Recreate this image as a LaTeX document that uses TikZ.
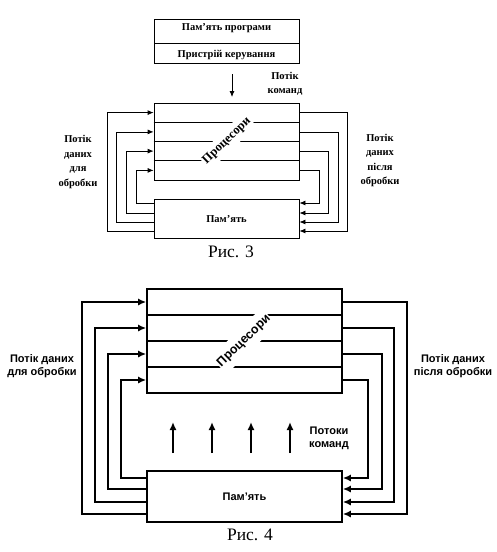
\documentclass[tikz,border=0pt]{standalone}
\usepackage{fontspec}
\setmainfont{Liberation Serif}
\newfontfamily\sansb{Liberation Sans}
\usetikzlibrary{arrows.meta}
\begin{document}
\begin{tikzpicture}[x=1pt,y=-1pt,
  boxthree/.style={draw,line width=0.8pt,inner sep=0pt},
  boxfour/.style={draw,line width=1.6pt,inner sep=0pt},
  wthree/.style={line width=0.8pt},
  wfour/.style={line width=1.6pt},
  arrthree/.style={wthree,-{Latex[length=6pt,width=5pt]}},
  arrfour/.style={wfour,-{Latex[length=8pt,width=7pt]}},
  labthree/.style={font=\fontsize{10.5}{14.5}\selectfont\bfseries,align=center},
  labfour/.style={font=\fontsize{11}{13}\selectfont\sansb\bfseries,align=center},
  caption/.style={font=\fontsize{17.5}{19}\selectfont}
]
\useasboundingbox (0,0) rectangle (497,552);

% ---------------- Figure 3 ----------------
\node[boxthree,minimum width=145,minimum height=24] (prog) at (226.5,31) {};
\node[boxthree,minimum width=145,minimum height=20] (ctrl) at (226.5,53) {};
\node[labthree] (progt) at (226.5,28) {Пам’ять програми};
\node[labthree] (ctrlt) at (226.5,55) {Пристрій керування};
\coordinate (cmdA) at (232,74);
\coordinate (cmdB) at (232,97);
\draw[arrthree] (cmdA) -- (cmdB);
\node[labthree] (cmd3) at (285,84) {Потік\\команд};

\node[boxthree,minimum width=145,minimum height=77] (proc3) at (226.5,141.5) {};
\foreach \yy in {122.25,141.5,160.75}
  \draw[wthree] (proc3.west |- 0,\yy) -- (proc3.east |- 0,\yy);
\node[font=\fontsize{12.5}{13}\selectfont\bfseries,fill=white,rotate=44,inner xsep=1pt,inner ysep=4pt] (proct3) at (227,141) {Процесори};

\node[boxthree,minimum width=145,minimum height=39] (mem3) at (226.5,218.5) {};
\node[labthree] (memt3) at (226.5,219) {Пам’ять};

\foreach \r/\xl/\m/\xr in {112.6/107/231/347, 131.9/116/222/338, 151.1/126/213/328, 170.4/136/203/319} {
  \draw[arrthree] (mem3.west |- 0,\m) -- (\xl,\m) -- (\xl,\r) -- (proc3.west |- 0,\r);
  \draw[arrthree] (proc3.east |- 0,\r) -- (\xr,\r) -- (\xr,\m) -- (mem3.east |- 0,\m);
}
\node[labthree] (inl3) at (78,162) {Потік\\даних\\для\\обробки};
\node[labthree] (outl3) at (380,160.5) {Потік\\даних\\після\\обробки};
\node[caption] (cap3) at (231,252) {Рис. 3};

% ---------------- Figure 4 ----------------
\node[boxfour,minimum width=195,minimum height=104] (proc4) at (244.5,341) {};
\foreach \yy in {315,341,367}
  \draw[wfour] (proc4.west |- 0,\yy) -- (proc4.east |- 0,\yy);
\node[font=\fontsize{12.5}{13}\selectfont\sansb\bfseries,fill=white,rotate=44,inner xsep=1pt,inner ysep=6pt] (proct4) at (244,341) {Процесори};

\node[boxfour,minimum width=195,minimum height=51] (mem4) at (244.5,496.5) {};
\node[labfour] (memt4) at (244.5,497) {Пам’ять};

\foreach \r/\xl/\m/\xr in {302/82/514/407, 328/95/502/394, 354/108/489/382, 380/121/478/368} {
  \draw[arrfour] (mem4.west |- 0,\m) -- (\xl,\m) -- (\xl,\r) -- (proc4.west |- 0,\r);
  \draw[arrfour] (proc4.east |- 0,\r) -- (\xr,\r) -- (\xr,\m) -- (mem4.east |- 0,\m);
}
\foreach \xx [count=\i] in {173,212,251,290} {
  \coordinate (ua\i) at (\xx,453);
  \coordinate (ub\i) at (\xx,422);
  \draw[arrfour] (ua\i) -- (ub\i);
}
\node[labfour] (cmd4) at (329,438) {Потоки\\команд};
\node[labfour] (inl4) at (42,366) {Потік даних\\для обробки};
\node[labfour] (outl4) at (453,366) {Потік даних\\після обробки};
\node[caption] (cap4) at (250,535) {Рис. 4};
\end{tikzpicture}
\end{document}
